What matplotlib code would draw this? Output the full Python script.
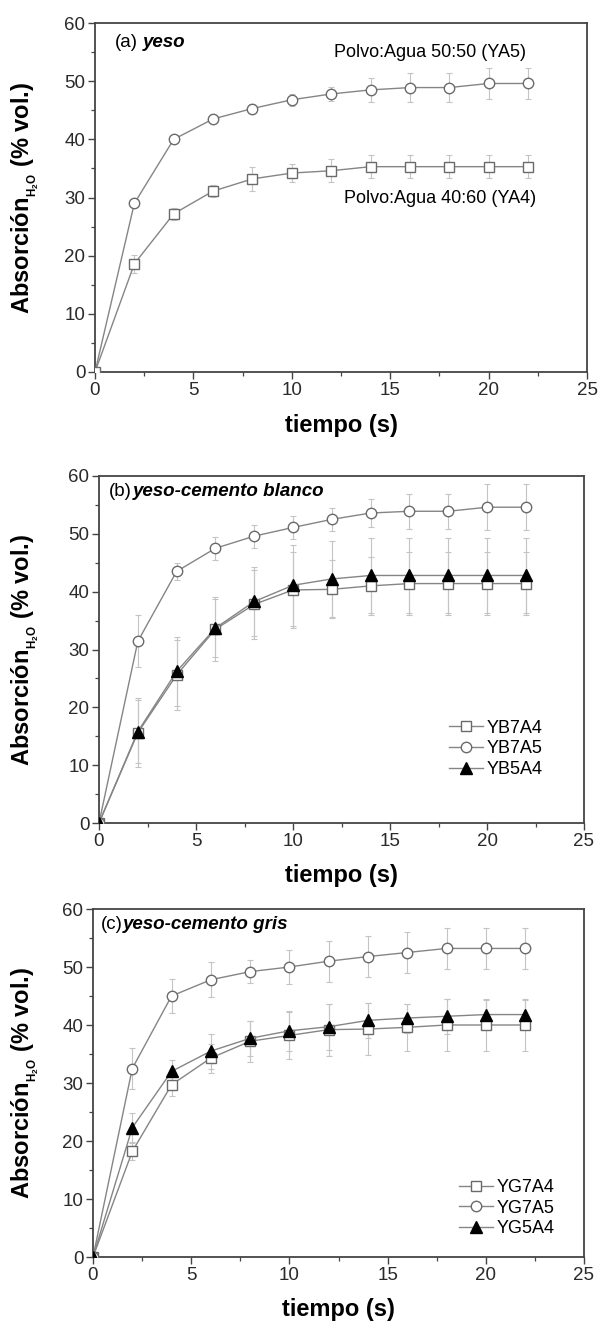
import matplotlib

matplotlib.use("Agg")
import matplotlib.pyplot as plt
import numpy as np

plt.rcParams["font.family"] = ["Liberation Sans", "DejaVu Sans"]
plt.rcParams["mathtext.fontset"] = "custom"
plt.rcParams["mathtext.rm"] = "Liberation Sans"

# time axis (s)
tiempo = [0, 2, 4, 6, 8, 10, 12, 14, 16, 18, 20, 22]

# (a) yeso
ya5 = [0, 29.0, 40.0, 43.5, 45.3, 46.8, 47.8, 48.5, 48.9, 48.9, 49.6, 49.6]
ya5_err = [0, 0.6, 0.6, 0.6, 0.8, 1.0, 1.2, 2.0, 2.5, 2.5, 2.6, 2.6]
ya4 = [0, 18.6, 27.2, 31.1, 33.2, 34.2, 34.6, 35.3, 35.3, 35.3, 35.3, 35.3]
ya4_err = [0, 1.5, 1.0, 1.0, 2.0, 1.5, 2.0, 2.0, 2.0, 2.0, 2.0, 2.0]

# (b) yeso-cemento blanco
yb7a4 = [0, 15.6, 25.6, 33.5, 37.8, 40.3, 40.4, 41.0, 41.4, 41.4, 41.4, 41.4]
yb7a4_err = [0, 6.0, 6.0, 5.5, 6.0, 6.5, 5.0, 5.0, 5.5, 5.5, 5.5, 5.5]
yb7a5 = [0, 31.4, 43.5, 47.5, 49.6, 51.1, 52.5, 53.6, 53.9, 53.9, 54.6, 54.6]
yb7a5_err = [0, 4.5, 1.5, 2.0, 2.0, 2.0, 2.0, 2.5, 3.0, 3.0, 4.0, 4.0]
yb5a4 = [0, 15.8, 26.2, 33.7, 38.3, 41.1, 42.2, 42.8, 42.8, 42.8, 42.8, 42.8]
yb5a4_err = [0, 5.5, 6.0, 5.0, 6.0, 7.0, 6.5, 6.5, 6.5, 6.5, 6.5, 6.5]

# (c) yeso-cemento gris
yg7a4 = [0, 18.2, 29.7, 34.3, 37.2, 38.2, 39.2, 39.3, 39.6, 40.0, 40.0, 40.0]
yg7a4_err = [0, 1.5, 2.0, 2.5, 3.5, 4.0, 4.5, 4.5, 4.0, 4.5, 4.5, 4.5]
yg7a5 = [0, 32.5, 45.0, 47.8, 49.2, 50.0, 51.0, 51.8, 52.5, 53.2, 53.2, 53.2]
yg7a5_err = [0, 3.5, 3.0, 3.0, 2.0, 3.0, 3.5, 3.5, 3.5, 3.5, 3.5, 3.5]
yg5a4 = [0, 22.3, 32.0, 35.5, 37.7, 39.0, 39.7, 40.8, 41.2, 41.5, 41.8, 41.8]
yg5a4_err = [0, 2.5, 2.0, 3.0, 3.0, 3.5, 4.0, 3.0, 2.5, 3.0, 2.5, 2.5]

x_ticks = [0, 5, 10, 15, 20, 25]
y_ticks = [0, 10, 20, 30, 40, 50, 60]

LINE = "#858585"
MEDGE = "#6a6a6a"
ERR = "#c4c4c4"
SPINE = "#444444"

W, H = 598, 1322
fig = plt.figure(figsize=(W / 100, H / 100), dpi=100)


def make_axes(top, bottom, left, right):
    return fig.add_axes([left / W, 1 - bottom / H, (right - left) / W, (bottom - top) / H])


def style(ax, left, right):
    ax.set_xlim(0, 25)
    ax.set_ylim(0, 60)
    ax.set_xticks(x_ticks)
    ax.set_yticks(y_ticks)
    ax.set_xticks(np.arange(0, 25.1, 2.5), minor=True)
    ax.set_yticks(np.arange(0, 60.1, 5), minor=True)
    ax.tick_params(which="major", direction="out", length=5, width=1.0,
                   color=SPINE, labelsize=13.5, labelcolor="#2a2a2a", pad=2)
    ax.tick_params(which="minor", direction="out", length=3, width=0.9, color=SPINE)
    for s in ax.spines.values():
        s.set_color(SPINE)
        s.set_linewidth(1.3)
    ax.set_xlabel("tiempo (s)", fontsize=17, fontweight="bold", va="center")
    ax.xaxis.set_label_coords(0.5, -0.152)
    ax.set_ylabel("Absorción" + r"$_{_{\mathregular{H_2O}}}$" + " (% vol.)",
                  fontsize=17, fontweight="bold", va="center")
    ax.yaxis.set_label_coords((25 - left) / (right - left), 0.5)


def series(ax, y, err, marker, filled, label=None):
    ax.errorbar(tiempo, y, yerr=err, fmt="none", ecolor=ERR, elinewidth=0.8,
                capsize=2.5, capthick=0.8, zorder=2)
    ax.plot(tiempo, y, color=LINE, lw=1.0, marker=marker,
            markersize=7.5 if marker != "^" else 8,
            markerfacecolor="black" if filled else "white",
            markeredgecolor="black" if filled else MEDGE, markeredgewidth=1.0,
            label=label, zorder=3)


def panel_title(ax, tag, name, x, y, dx=3):
    t = ax.text(x, y, tag, transform=ax.transAxes, fontsize=13.5, va="center")
    ax.annotate(name, xy=(1, 0.5), xycoords=t, xytext=(dx, 0), textcoords="offset points",
                fontsize=13.5, fontweight="bold", fontstyle="italic", va="center")


def legend(ax, anchor):
    ax.legend(loc="lower right", bbox_to_anchor=anchor, frameon=False, fontsize=13,
              handlelength=1.9, handletextpad=0.2, labelspacing=0.2,
              borderaxespad=0, borderpad=0)


# (a)
L, R = 95, 587
ax1 = make_axes(23, 372, L, R)
series(ax1, ya5, ya5_err, "o", False)
series(ax1, ya4, ya4_err, "s", False)
style(ax1, L, R)
panel_title(ax1, "(a)", "yeso", 0.041, 0.945)
ax1.text(21.9, 55.0, "Polvo:Agua 50:50 (YA5)", fontsize=13, ha="right", va="center")
ax1.text(22.4, 29.9, "Polvo:Agua 40:60 (YA4)", fontsize=13, ha="right", va="center")

# (b)
L, R = 99, 584
ax2 = make_axes(476, 823, L, R)
series(ax2, yb7a4, yb7a4_err, "s", False, "YB7A4")
series(ax2, yb7a5, yb7a5_err, "o", False, "YB7A5")
series(ax2, yb5a4, yb5a4_err, "^", True, "YB5A4")
style(ax2, L, R)
panel_title(ax2, "(b)", "yeso-cemento blanco", 0.02, 0.955, dx=1)
legend(ax2, (0.915, 0.13))

# (c)
L, R = 93, 584
ax3 = make_axes(909, 1257, L, R)
series(ax3, yg7a4, yg7a4_err, "s", False, "YG7A4")
series(ax3, yg7a5, yg7a5_err, "o", False, "YG7A5")
series(ax3, yg5a4, yg5a4_err, "^", True, "YG5A4")
style(ax3, L, R)
panel_title(ax3, "(c)", "yeso-cemento gris", 0.016, 0.955, dx=0)
legend(ax3, (0.94, 0.057))

fig.savefig("out.png", dpi=100)
plt.close(fig)
